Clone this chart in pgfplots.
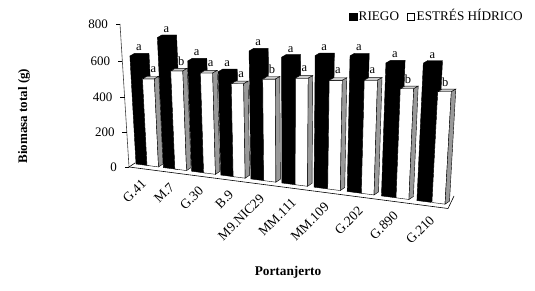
\documentclass[border=0pt]{standalone}
\usepackage{pgfplots}
\usepackage{pgfplotstable}
\usepackage{fontspec}
\setmainfont{Liberation Serif}
\pgfplotsset{compat=1.18}
\pgfplotstableread{
name riego estres lr le
G.41 611 493 a a
M.7 720 549 a b
G.30 606 550 a a
B.9 561 506 a a
M9.NIC29 680 544 a b
MM.111 660 562 a a
MM.109 680 565 a a
G.202 691 580 a a
G.890 669 553 a b
G.210 682 554 a b
}\datatbl
% perspective of the 3-D chart: (category, value) -> picture position
\newcommand\barcalc[4]{% c, offset, width, value
  \pgfmathsetmacro\kk{1+.015*#1}%
  \pgfmathsetmacro\XB{136+27*#1/(1-.015*#1)}%
  \pgfmathsetmacro\HH{\kk*(.1704*#4+.104*(#4/100)*(#4/100))}%
  \pgfmathsetmacro\xL{\XB+#2}%
  \pgfmathsetmacro\xR{\xL+#3}%
  \pgfmathsetmacro\yBL{164+.13*(\xL-136)}%
  \pgfmathsetmacro\yBR{164+.13*(\xR-136)}%
  \pgfmathsetmacro\xLt{\xL+(\xL-290)*.00037*\HH}%
  \pgfmathsetmacro\xRt{\xR+(\xR-290)*.00037*\HH}%
  \pgfmathsetmacro\yT{\yBL-\HH}%
  \pgfmathsetmacro\xRs{\xR+4.5}%
  \pgfmathsetmacro\yBs{\yBR-3}%
  \pgfmathsetmacro\xRts{\xRt+4.5}%
  \pgfmathsetmacro\xLts{\xLt+4.5}%
  \pgfmathsetmacro\yTs{\yT-2.6}%
}
\newcommand\blackbar[3]{% c, value, letter
  \barcalc{#1}{0}{14}{#2}%
  \edef\tmp{\noexpand\addplot[fill=black,draw=black,line width=.4pt,forget plot] coordinates {(\xL,\yBL)(\xR,\yBR)(\xRs,\yBs)(\xRts,\yTs)(\xLts,\yTs)(\xLt,\yT)} --cycle;}\tmp
  \pgfmathsetmacro\xlab{\xLt+9}\pgfmathsetmacro\ylab{\yT-8}%
  \edef\tmp{\noexpand\node[font=\noexpand\fontsize{12.5}{12}\noexpand\selectfont] at (axis cs:\xlab,\ylab) {#3};}\tmp
}
\newcommand\whitebar[3]{%
  \pgfmathsetmacro\off{11+.45*#1}\pgfmathsetmacro\wid{11.5*(1+.015*#1)}%
  \barcalc{#1}{\off}{\wid}{#2}%
  \edef\tmp{\noexpand\addplot[fill=white,draw=black,line width=.4pt,forget plot] coordinates {(\xL,\yBL)(\xR,\yBR)(\xRt,\yT)(\xLt,\yT)} --cycle;}\tmp
  \edef\tmp{\noexpand\addplot[fill=black!20,draw=black,line width=.4pt,forget plot] coordinates {(\xLt,\yT)(\xRt,\yT)(\xRts,\yTs)(\xLts,\yTs)} --cycle;}\tmp
  \edef\tmp{\noexpand\addplot[fill=black!40,draw=black,line width=.4pt,forget plot] coordinates {(\xR,\yBR)(\xRs,\yBs)(\xRts,\yTs)(\xRt,\yT)} --cycle;}\tmp
  \pgfmathsetmacro\xlab{\xLt+11-.4*#1}\pgfmathsetmacro\ylab{\yT-9.5}%
  \edef\tmp{\noexpand\node[font=\noexpand\fontsize{12.5}{12}\noexpand\selectfont] at (axis cs:\xlab,\ylab) {#3};}\tmp
}
\begin{document}
\begin{tikzpicture}
\path[use as bounding box] (0,0) rectangle (535pt,291pt);
\begin{axis}[at={(0,0)},anchor=south west,scale only axis,width=535pt,height=291pt,
  xmin=0,xmax=535,ymin=0,ymax=291,y dir=reverse,hide axis,clip=false]
% value axis, floor
\addplot[draw=black!75,line width=.6pt,forget plot] coordinates {(120,24)(129,167)};
\addplot[draw=black,line width=.6pt,forget plot] coordinates {(129,167)(135,163)};
\addplot[draw=black,line width=.6pt,forget plot] coordinates {(129,167)(448,208.5)(454,196)};
\pgfplotsinvokeforeach{0,200,400,600,800}{%
  \pgfmathsetmacro\ax{129-9*#1/800}%
  \pgfmathsetmacro\ay{167-(.1704*#1+.104*(#1/100)*(#1/100))}%
  \pgfmathsetmacro\axl{\ax-4.5}\pgfmathsetmacro\axt{\ax-12}%
  \edef\tmp{\noexpand\addplot[draw=black,line width=.6pt,forget plot] coordinates {(\ax,\ay)(\axl,\ay)};}\tmp
  \edef\tmp{\noexpand\node[anchor=east,inner sep=0pt,font=\noexpand\fontsize{13}{13}\noexpand\selectfont] at (axis cs:\axt,\ay) {#1};}\tmp
}
% bars
\pgfplotsinvokeforeach{0,...,9}{%
  \pgfplotstablegetelem{#1}{riego}\of\datatbl\edef\vv{\pgfplotsretval}%
  \pgfplotstablegetelem{#1}{lr}\of\datatbl\edef\ll{\pgfplotsretval}%
  \blackbar{#1}{\vv}{\ll}%
}
\pgfplotsinvokeforeach{0,...,9}{%
  \pgfplotstablegetelem{#1}{estres}\of\datatbl\edef\vv{\pgfplotsretval}%
  \pgfplotstablegetelem{#1}{le}\of\datatbl\edef\ll{\pgfplotsretval}%
  \whitebar{#1}{\vv}{\ll}%
}
% category labels
\pgfplotsinvokeforeach{0,...,9}{%
  \pgfplotstablegetelem{#1}{name}\of\datatbl\edef\nn{\pgfplotsretval}%
  \pgfmathsetmacro\XB{136+27*#1/(1-.015*#1)}%
  \pgfmathsetmacro\xx{\XB+8+.8*#1}%
  \pgfmathsetmacro\yy{164+.13*(\XB-136)+17.5}%
  \edef\tmp{\noexpand\node[anchor=east,rotate=45,inner sep=0pt,font=\noexpand\fontsize{13.5}{13.5}\noexpand\selectfont] at (axis cs:\xx,\yy) {\nn};}\tmp
}
% axis titles
\node[rotate=90,font=\bfseries\fontsize{13}{13}\selectfont] at (axis cs:24,116) {Biomasa total (g)};
\node[font=\bfseries\fontsize{13.3}{13}\selectfont] at (axis cs:288,272) {Portanjerto};
% legend
\addplot[fill=black,draw=black,forget plot] coordinates {(349.5,13)(357,13)(357,20.5)(349.5,20.5)} --cycle;
\addplot[fill=white,draw=black,line width=.5pt,forget plot] coordinates {(407,13.5)(414,13.5)(414,20.5)(407,20.5)} --cycle;
\node[anchor=base west,inner sep=0pt,font=\fontsize{13.2}{13.2}\selectfont] at (axis cs:358.5,21) {RIEGO};
\node[anchor=base west,inner sep=0pt,font=\fontsize{13.2}{13.2}\selectfont] at (axis cs:416.5,21) {ESTRÉS HÍDRICO};
\end{axis}
\end{tikzpicture}
\end{document}
